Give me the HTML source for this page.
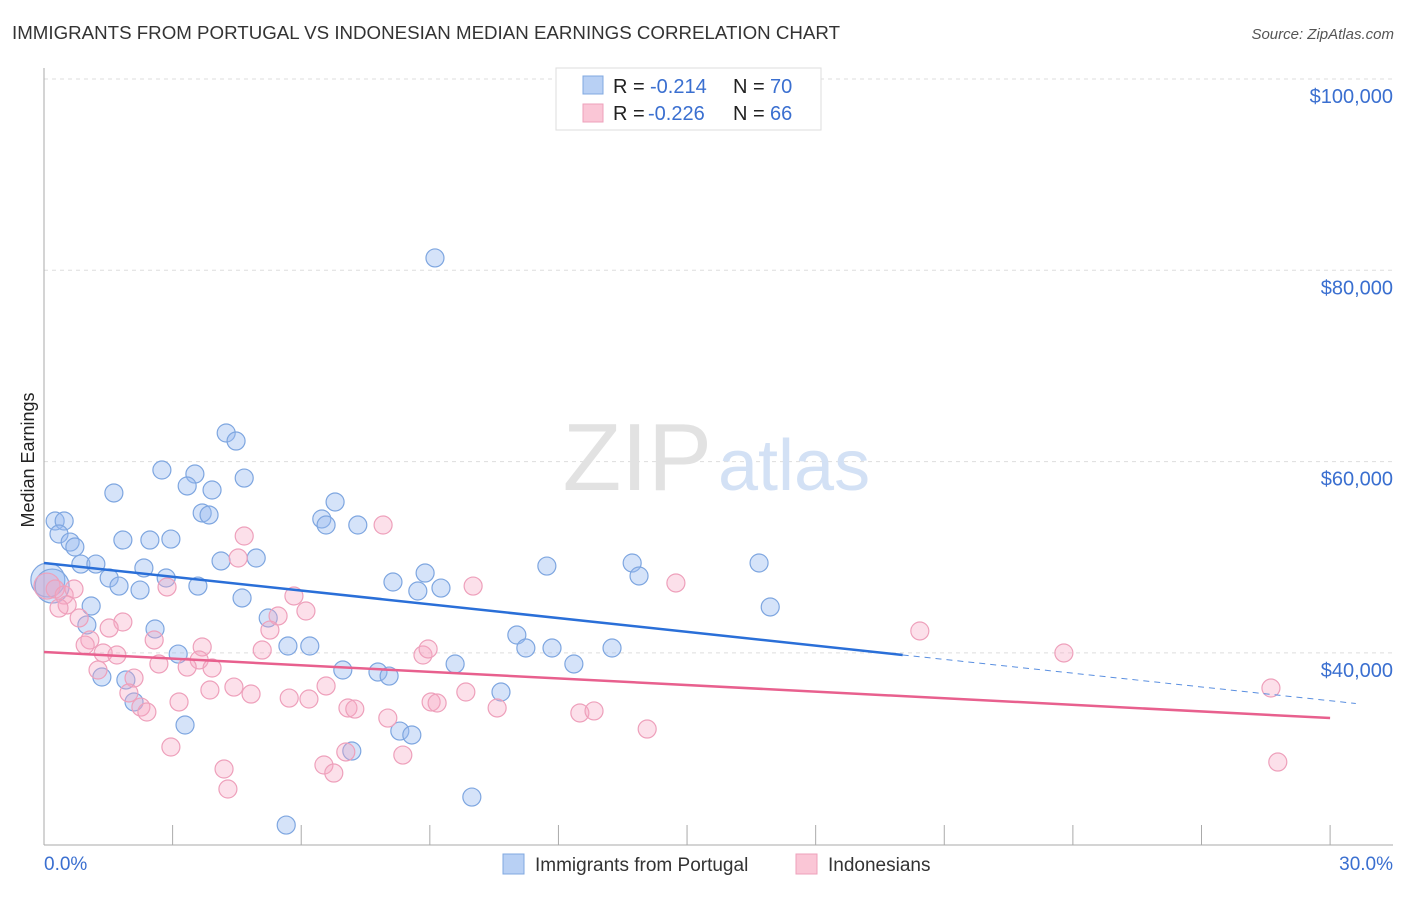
<!DOCTYPE html>
<html><head><meta charset="utf-8">
<style>
body{margin:0;background:#fff;font-family:"Liberation Sans",sans-serif;}
svg text{font-family:"Liberation Sans",sans-serif;}
</style></head>
<body>
<svg id="chart" width="1406" height="892" xmlns="http://www.w3.org/2000/svg">
<text x="12" y="39" font-size="18" fill="#333" textLength="828" lengthAdjust="spacingAndGlyphs">IMMIGRANTS FROM PORTUGAL VS INDONESIAN MEDIAN EARNINGS CORRELATION CHART</text>
<text x="1394" y="39" font-size="15" fill="#555" font-style="italic" text-anchor="end">Source: ZipAtlas.com</text>
<text x="34" y="460" font-size="18" fill="#222" text-anchor="middle" transform="rotate(-90 34 460)">Median Earnings</text>
<g id="grid"></g>
<text x="712" y="490" font-size="96" fill="#e2e2e2" text-anchor="end" font-family="Liberation Serif">ZIP</text>
<text x="718" y="490" font-size="72" fill="#d3e1f5">atlas</text>
<g id="axes"></g>
<g id="pts"></g>
<g id="trend"></g>
<g>
<rect x="556" y="68" width="265" height="62" fill="#fff" stroke="#ddd"/>
<rect x="583" y="76" width="20" height="18" fill="#b8d0f4" stroke="#80a8e0"/>
<rect x="583" y="104" width="20" height="18" fill="#fac6d6" stroke="#eea0bb"/>
<text x="613" y="93" font-size="20" fill="#222">R =</text>
<text x="650" y="93" font-size="20" fill="#3a6fd0">-0.214</text>
<text x="733" y="93" font-size="20" fill="#222">N =</text>
<text x="770" y="93" font-size="20" fill="#3a6fd0">70</text>
<text x="613" y="120" font-size="20" fill="#222">R =</text>
<text x="648" y="120" font-size="20" fill="#3a6fd0">-0.226</text>
<text x="733" y="120" font-size="20" fill="#222">N =</text>
<text x="770" y="120" font-size="20" fill="#3a6fd0">66</text>
</g>
<g>
<rect x="503" y="854" width="21" height="20" fill="#b8d0f4" stroke="#80a8e0"/>
<text x="535" y="871" font-size="19" fill="#333">Immigrants from Portugal</text>
<rect x="796" y="854" width="21" height="20" fill="#fac6d6" stroke="#eea0bb"/>
<text x="828" y="871" font-size="19" fill="#333">Indonesians</text>
</g>
</svg>
<script>
const yTicks=[40,60,80,100];
const yTickLabels=["$40,000","$60,000","$80,000","$100,000"];
const xTickLabels=["0.0%","30.0%"];
const blueX=[9.12,4.25,4.48,2.75,3.52,4.67,3.34,3.92,1.63,6.79,3.69,3.85,0.26,0.47,6.48,6.58,7.32,0.35,0.61,0.72,1.84,2.47,2.96,4.95,4.13,0.86,1.21,2.33,11.73,13.72,16.68,13.88,1.52,2.85,0.09,0.19,1.75,2.24,3.59,8.14,8.89,8.72,9.26,4.62,1.10,16.94,5.23,1.00,2.59,11.03,11.24,11.85,13.25,12.36,3.13,5.69,6.20,9.59,6.97,7.79,8.05,1.35,1.91,10.66,2.10,3.29,8.30,8.58,7.18,9.98,5.65];
const blueY=[81.29,62.99,62.15,59.12,58.70,58.28,57.45,57.03,56.72,55.78,54.63,54.42,53.79,53.79,54.00,53.37,53.37,52.43,51.59,51.07,51.80,51.80,51.90,49.92,49.61,49.29,49.29,48.88,49.08,49.40,49.40,48.04,47.83,47.83,47.62,46.99,46.99,46.57,46.99,47.41,48.35,46.47,46.78,45.74,44.90,44.80,43.65,42.92,42.50,41.87,40.51,40.51,40.51,38.84,39.88,40.72,40.72,38.84,38.21,38.00,37.58,37.48,37.17,35.91,34.87,32.46,31.83,31.42,29.74,24.93,22.00];
const pinkX=[7.91,4.67,4.53,0.07,0.26,0.47,0.70,0.54,0.35,10.01,14.74,5.83,6.11,5.46,2.87,1.84,1.52,0.82,5.27,20.43,23.79,1.07,0.96,2.57,3.69,5.09,1.38,1.70,3.62,8.84,8.96,2.68,3.34,3.92,1.26,2.10,1.98,3.87,4.43,4.83,6.58,9.84,28.62,3.15,5.72,6.18,9.03,9.17,2.26,2.40,7.09,7.25,10.57,12.50,12.83,8.02,2.96,7.04,14.07,8.37,4.20,6.53,6.76,4.29,28.78];
const pinkY=[53.37,52.22,49.92,46.99,46.68,46.05,46.68,45.01,44.69,46.99,47.31,45.95,44.38,43.86,46.89,43.23,42.60,43.65,42.39,42.29,39.99,41.35,40.82,41.35,40.62,40.30,39.99,39.78,39.26,39.78,40.41,38.84,38.52,38.42,38.21,37.37,35.81,36.12,36.43,35.70,36.54,35.91,36.33,34.87,35.28,35.18,34.87,34.76,34.34,33.82,34.24,34.13,34.24,33.72,33.93,33.19,30.16,29.64,32.04,29.32,27.86,28.28,27.44,25.77,28.59];
const blueTrend=[49.4,-0.48];
const pinkTrend=[40.09,-0.23];
const NS="http://www.w3.org/2000/svg";
const sx=v=>44+v*42.87, sy=v=>79+(100-v)*9.565;
function mk(tag,attrs,parent){const e=document.createElementNS(NS,tag);for(const k in attrs)e.setAttribute(k,attrs[k]);parent.appendChild(e);return e;}
const grid=document.getElementById('grid'),axes=document.getElementById('axes'),pts=document.getElementById('pts'),trend=document.getElementById('trend');
yTicks.forEach((t,i)=>{
 const l=mk('line',{x1:44,x2:1393,y1:sy(t),y2:sy(t),stroke:'#ddd','stroke-dasharray':'4,4'},grid);
 
 
 const tx=mk('text',{x:1393,y:sy(t)+24,'font-size':20,fill:'#3a6fd0','text-anchor':'end'},axes);
 tx.textContent=yTickLabels[i];
 
 
});
const ax=mk('line',{x1:44,x2:44,y1:68,y2:845,stroke:'#aaa'},axes);


const bx=mk('line',{x1:44,x2:1393,y1:845,y2:845,stroke:'#aaa'},axes);


for(let i=1;i<=10;i++){const t=mk('line',{x1:sx(i*3),x2:sx(i*3),y1:825,y2:845,stroke:'#aaa'},axes);
 
 }
[[0,'start',44],[30,'end',1393]].forEach((d,i)=>{const t=mk('text',{x:d[2],y:870,'font-size':19,fill:'#3a6fd0','text-anchor':d[1]},axes);t.textContent=xTickLabels[i];
 
 });
function dots(X,Y,fill,stroke,name){X.forEach((x,i)=>{const r=(x<0.2&&Math.abs(Y[i]-47.3)<0.8)?(name==='blue-point'?17:13):9;
 const c=mk('circle',{cx:sx(x),cy:sy(Y[i]),r:r,fill:fill,stroke:stroke,'stroke-width':1.2},pts);
 
 });}
dots(blueX,blueY,'rgba(150,185,240,0.4)','#7ea6e0','blue-point');
dots(pinkX,pinkY,'rgba(245,165,195,0.35)','#eea0bb','pink-point');
const b1=mk('line',{x1:sx(0),y1:sy(blueTrend[0]),x2:sx(20.03),y2:sy(blueTrend[0]+blueTrend[1]*20.03),stroke:'#2a6fd8','stroke-width':2.5},trend);


const b2=mk('line',{x1:sx(20.03),y1:sy(blueTrend[0]+blueTrend[1]*20.03),x2:sx(30.6),y2:sy(blueTrend[0]+blueTrend[1]*30.6),stroke:'#5a8fe0','stroke-width':1,'stroke-dasharray':'6,5'},trend);


const p1=mk('line',{x1:sx(0),y1:sy(pinkTrend[0]),x2:sx(30),y2:sy(pinkTrend[0]+pinkTrend[1]*30),stroke:'#e8608e','stroke-width':2.5},trend);


</script>
</body></html>
